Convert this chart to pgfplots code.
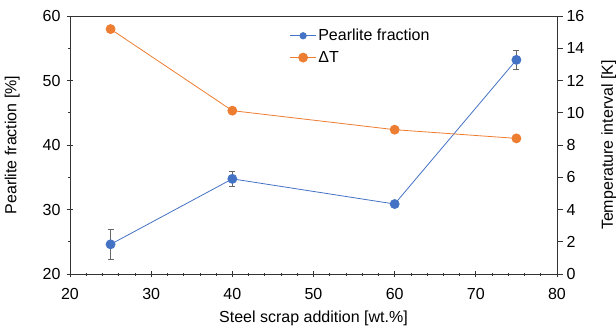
\documentclass[border=0pt]{standalone}
\usepackage{pgfplots}
\pgfplotsset{compat=1.18}
\usepackage{fontspec}
\setmainfont{Liberation Sans}
\definecolor{cblue}{HTML}{4472C4}
\definecolor{corange}{HTML}{ED7D31}
\begin{document}
\begin{tikzpicture}
\pgfplotsset{
  every axis/.append style={
    scale only axis, width=487pt, height=258pt,
    font=\fontsize{16}{18}\selectfont,
    /pgf/number format/assume math mode=true,
    xmin=20, xmax=80,
    axis line style={black!80, line width=0.8pt},
    tick style={black!80, line width=0.7pt},
  }
}
\useasboundingbox (-70pt,-51pt) rectangle (546pt,274pt);
\begin{axis}[
  axis y line*=left, axis x line*=bottom,
  ymin=20, ymax=60, ytick={20,30,...,60},
  xtick={20,30,...,80},
  minor x tick num=4, minor y tick num=1,
  tick align=center,
  major tick length=6pt, minor tick length=3pt,
  xticklabel style={yshift=-8pt},
  yticklabel style={xshift=-3pt},
  xlabel={Steel scrap addition [wt.\%]},
  ylabel={Pearlite fraction [\%]},
  xlabel style={yshift=-4pt},
  ylabel style={yshift=16pt},
]
\addplot[cblue, line width=0.8pt, mark=*, mark size=4.5pt,
  mark options={fill=cblue, draw=cblue},
  error bars/.cd, y dir=both, y explicit,
  error bar style={black!60, line width=0.8pt},
  error mark options={rotate=90, mark size=3pt, black!60, line width=0.8pt}]
coordinates {
 (25,24.6) +- (0,2.3)
 (40,34.75) +- (0,1.15)
 (60,30.85) +- (0,0.4)
 (75,53.2) +- (0,1.5)
};
\end{axis}
\begin{axis}[
  axis y line*=right, axis x line=none,
  ymin=0, ymax=16, ytick={0,2,...,16},
  tick align=outside, major tick length=6pt,
  ylabel={Temperature interval [K]},
  ylabel style={yshift=-10pt},
  legend style={draw=none, fill=none, at={(0.445,0.965)}, anchor=north west,
    font=\fontsize{16}{18}\selectfont, row sep=5pt,
    legend cell align=left},
  legend image code/.code={\draw[mark repeat=2,mark phase=2] plot coordinates {(0cm,0cm)(0.45cm,0cm)(0.9cm,0cm)};},
  legend image post style={line width=0.8pt},
]
\addlegendimage{cblue, mark=*, mark size=3.2pt, mark options={fill=cblue}}
\addlegendentry{Pearlite fraction}
\addplot[corange, line width=0.8pt, mark=*, mark size=4.5pt,
  mark options={fill=corange, draw=corange}]
coordinates {(25,15.19) (40,10.13) (60,8.95) (75,8.41)};
\addlegendentry{ΔT}
\draw[black!80, line width=0.8pt] (rel axis cs:0,1) -- (rel axis cs:1,1);
\end{axis}
\end{tikzpicture}
\end{document}
